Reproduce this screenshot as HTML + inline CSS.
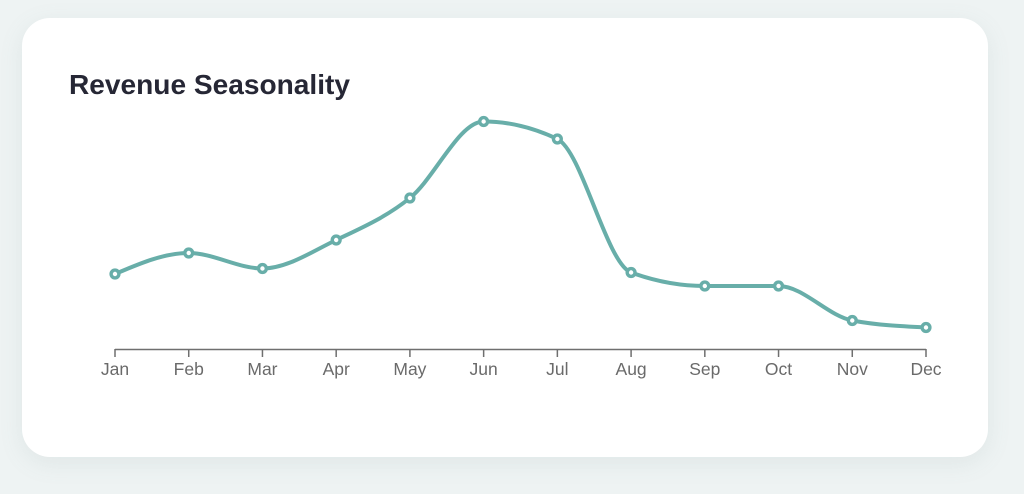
<!DOCTYPE html>
<html>
<head>
<meta charset="utf-8">
<style>
  html, body { margin:0; padding:0; }
  body { width:1024px; height:494px; background:#eef3f3; overflow:hidden; position:relative; font-family:"Liberation Sans", sans-serif; }
  .card { position:absolute; left:22px; top:18px; width:966px; height:439px; background:#ffffff; border-radius:28px; box-shadow:0 6px 24px rgba(120,150,150,0.12); }
  svg { position:absolute; left:0; top:0; }
</style>
</head>
<body>
<div class="card"></div>
<svg width="1024" height="494" viewBox="0 0 1024 494">
  <text x="69" y="94" font-family="Liberation Sans, sans-serif" font-size="28" font-weight="bold" fill="#262735" textLength="281" lengthAdjust="spacingAndGlyphs">Revenue Seasonality</text>
  <g stroke="#6f6f6f" stroke-width="1.5" fill="none">
    <line x1="115" y1="349.5" x2="926" y2="349.5"/>
    <line x1="115" y1="349" x2="115" y2="357"/>
    <line x1="188.73" y1="349" x2="188.73" y2="357"/>
    <line x1="262.45" y1="349" x2="262.45" y2="357"/>
    <line x1="336.18" y1="349" x2="336.18" y2="357"/>
    <line x1="409.91" y1="349" x2="409.91" y2="357"/>
    <line x1="483.64" y1="349" x2="483.64" y2="357"/>
    <line x1="557.36" y1="349" x2="557.36" y2="357"/>
    <line x1="631.09" y1="349" x2="631.09" y2="357"/>
    <line x1="704.82" y1="349" x2="704.82" y2="357"/>
    <line x1="778.55" y1="349" x2="778.55" y2="357"/>
    <line x1="852.27" y1="349" x2="852.27" y2="357"/>
    <line x1="926" y1="349" x2="926" y2="357"/>
  </g>
  <g font-family="Liberation Sans, sans-serif" font-size="17.5" fill="#6a6a6a" text-anchor="middle">
    <text x="115" y="375">Jan</text>
    <text x="188.73" y="375">Feb</text>
    <text x="262.45" y="375">Mar</text>
    <text x="336.18" y="375">Apr</text>
    <text x="409.91" y="375">May</text>
    <text x="483.64" y="375">Jun</text>
    <text x="557.36" y="375">Jul</text>
    <text x="631.09" y="375">Aug</text>
    <text x="704.82" y="375">Sep</text>
    <text x="778.55" y="375">Oct</text>
    <text x="852.27" y="375">Nov</text>
    <text x="926" y="375">Dec</text>
  </g>
  <path fill="none" stroke="#68aea9" stroke-width="4" stroke-linecap="round" stroke-linejoin="round"
    d="M115,274 C139.58,263.5 164.15,253 188.73,253
       C213.3,253 237.88,268.5 262.45,268.5
       C287.03,268.5 311.6,251.75 336.18,240
       C360.76,228.25 385.33,217.75 409.91,198
       C434.48,178.25 459.06,121.5 483.64,121.5
       C508.21,121.5 532.79,127.33 557.36,139
       C581.94,150.67 606.51,263.5 631.09,272.5
       C655.67,281.5 680.24,286 704.82,286
       C729.39,286 753.97,286 778.55,286
       C803.12,286 827.7,315.83 852.27,320.5
       C876.85,325.17 901.42,326.33 926,327.5"/>
  <g fill="#ffffff" stroke="#68aea9" stroke-width="3.4">
    <circle cx="115" cy="274" r="3.9"/>
    <circle cx="188.73" cy="253" r="3.9"/>
    <circle cx="262.45" cy="268.5" r="3.9"/>
    <circle cx="336.18" cy="240" r="3.9"/>
    <circle cx="409.91" cy="198" r="3.9"/>
    <circle cx="483.64" cy="121.5" r="3.9"/>
    <circle cx="557.36" cy="139" r="3.9"/>
    <circle cx="631.09" cy="272.5" r="3.9"/>
    <circle cx="704.82" cy="286" r="3.9"/>
    <circle cx="778.55" cy="286" r="3.9"/>
    <circle cx="852.27" cy="320.5" r="3.9"/>
    <circle cx="926" cy="327.5" r="3.9"/>
  </g>
</svg>
</body>
</html>
